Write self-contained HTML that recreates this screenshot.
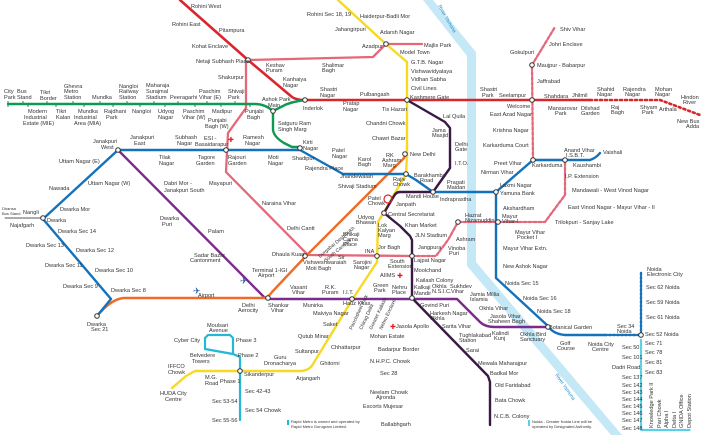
<!DOCTYPE html>
<html><head><meta charset="utf-8"><style>
html,body{margin:0;padding:0;background:#fff}
svg{display:block}
text{font-family:"Liberation Sans",sans-serif;font-size:5.6px;fill:#333}
.l{fill:none;stroke-linejoin:round;stroke-linecap:round}
</style></head><body>
<svg width="705" height="435" viewBox="0 0 705 435" xmlns="http://www.w3.org/2000/svg">
<path d="M423,0 L433,0 L476,52 L476,262 L622,435 L611,435 L467,266 L467,56 Z" fill="#c4e8f6"/>
<text transform="translate(438,6) rotate(60)" style="font-size:5px;fill:#2a8bc0">River Yamuna</text>
<text transform="translate(555,375) rotate(55)" style="font-size:5px;fill:#2a8bc0">River Yamuna</text>

<path class="l" d="M43,218 L4,218" stroke="#aaa" stroke-width="2" stroke-dasharray="1.5,1.5"/>
<path class="l" d="M422,44 L386,44 L373,57 L248,60 M246,60 L246,108 L228,133 L226,172 L308,255 L412,256" stroke="#e4687a" stroke-width="2.3"/>
<path class="l" d="M412,256 L436,256 L448,240 L458,222 L545,222 L565,195 L565,160 M533,160 L565,160 M533,160 L532,65 L555,27" stroke="#e4687a" stroke-width="2.3" stroke-dasharray="3,2"/>
<path class="l" d="M180,0 L248,60 L292,97 Q296,100 305,100 L590,100" stroke="#d9262c" stroke-width="2.6"/>
<path class="l" d="M590,100 L660,100 L700,115" stroke="#d9262c" stroke-width="2.6" stroke-dasharray="2,3"/>
<path class="l" d="M8,104 L255,104 Q265,104 273,111 L283,106 Q290,102 305,100 M273,111 L273,130 Q274,137 284,143 L292,147 L300,147" stroke="#0e9a50" stroke-width="2.4"/>
<path d="M8,101V107 M23,104V101 M28,104V107 M47,104V101 M56,104V107 M73,104V101 M84,104V107 M100,104V101 M113,104V107 M127,104V101 M140,104V107 M154,104V101 M165,104V107 M178,104V101 M195,104V107 M207,104V101 M221,104V107 M235,104V101 M250,104V107" stroke="#0e9a50" stroke-width="1"/>
<path class="l" d="M118,150 L265,298 Q267,299 275,299 L457,299 L480,322 Q485,327 495,327 L548,327" stroke="#7c2b8c" stroke-width="2.4"/>
<path class="l" d="M97,316 Q112,298 125,298 L262,298 Q268,298 272,292 L305,257 L400,162 Q405,158 405,155" stroke="#ee6c27" stroke-width="2.4"/>
<path class="l" d="M97,316 L111,299 L43,219 L118,150 L300,150 L343,174 L406,174 L416,180 L433,192 L496,192 L533,160 L590,160 Q596,158 600,153 M496,192 L496,278 L548,326 Q553,334 565,335 L605,335" stroke="#1472bb" stroke-width="2.4"/>
<path class="l" d="M605,335 L642,335 M641,335 L641,272" stroke="#1472bb" stroke-width="2.4" stroke-dasharray="2,2"/>
<path class="l" d="M338,0 L386,44 L407,62 L407,155 L406,174 L384,212 L378,222 L377,262 L352,300 L313,364 Q309,371 300,371 L195,371 L186,376 L172,388" stroke="#f7d924" stroke-width="2.4"/>
<path class="l" d="M407,100 L445,122 L450,128 L450,168 L433,192 L400,192 Q396,192 394,196 L384,213 L400,226 L410,236 L412,240 L412,298 L488,376 L490,382 L490,425" stroke="#3a1a45" stroke-width="2.4"/>
<path class="l" d="M240,371 L240,420 M240,371 L240,357 L233,354 L205,349 L205,338 L208,335 L230,335 L233,338 L233,354" stroke="#22b8d6" stroke-width="2.2"/>
<path class="l" d="M641,340 L641,430 L690,430" stroke="#5ad0e6" stroke-width="2.2" stroke-dasharray="2,1.5"/>

<g fill="#fff" stroke="#333" stroke-width="1">
<circle cx="248" cy="60" r="2.3"/><circle cx="305" cy="100" r="2.3"/><circle cx="273" cy="111" r="2.3"/>
<circle cx="300" cy="148" r="2.3"/><circle cx="118" cy="150" r="2.3"/><circle cx="226" cy="150" r="2.3"/>
<circle cx="386" cy="44" r="2.3"/><circle cx="407" cy="100" r="2.3"/><circle cx="532" cy="100" r="2.3"/>
<circle cx="532" cy="65" r="2.3"/><circle cx="533" cy="160" r="2.3"/><circle cx="565" cy="160" r="2.3"/>
<circle cx="405" cy="154" r="2.3"/><circle cx="406" cy="174" r="2.3"/><circle cx="433" cy="192" r="2.3"/>
<circle cx="496" cy="192" r="2.3"/><circle cx="384" cy="213" r="2.3"/><circle cx="377" cy="256" r="2.3"/>
<circle cx="412" cy="256" r="2.3"/><circle cx="412" cy="298" r="2.3"/><circle cx="548" cy="327" r="2.3"/>
<circle cx="641" cy="335" r="2.3"/><circle cx="43" cy="218" r="2.3"/><circle cx="97" cy="316" r="2.3"/>
<circle cx="305" cy="256" r="2.3"/><circle cx="268" cy="298" r="2.3"/><circle cx="352" cy="299" r="2.3"/>
<circle cx="240" cy="371" r="2.3"/><circle cx="458" cy="222" r="2.3"/><circle cx="498" cy="222" r="2.3"/>
</g>
<circle cx="388" cy="199" r="4" fill="none" stroke="#d9262c" stroke-width="1.2"/>
<text x="193" y="294" style="font-size:9px;fill:#2d5fb3">✈</text>
<text x="240" y="284" style="font-size:9px;fill:#2d5fb3">✈</text>

<text x="191" y="8">Rohini West</text><text x="172" y="26">Rohini East</text><text x="219" y="32">Pitampura</text>
<text x="192" y="48">Kohat Enclave</text><text x="196" y="63">Netaji Subhash Place</text>
<text x="266" y="67">Keshav</text><text x="266" y="72">Puram</text><text x="283" y="81">Kanhaiya</text><text x="283" y="87">Nagar</text>
<text x="322" y="67">Shalimar</text><text x="322" y="72">Bagh</text><text x="218" y="79">Shakurpur</text>
<text x="320" y="91">Shastri</text><text x="320" y="97">Nagar</text>
<text x="4" y="93">City</text><text x="4" y="99">Park</text><text x="17" y="93">Bus</text><text x="17" y="99">Stand</text>
<text x="40" y="94">Tikri</text><text x="40" y="100">Border</text>
<text x="64" y="88">Ghevra</text><text x="64" y="93">Metro</text><text x="64" y="99">Station</text>
<text x="92" y="99">Mundka</text>
<text x="119" y="88">Nangloi</text><text x="119" y="93">Railway</text><text x="119" y="99">Station</text>
<text x="146" y="87">Maharaja</text><text x="146" y="93">Surajmal</text><text x="146" y="99">Stadium</text>
<text x="170" y="99">Peeragarhi</text>
<text x="199" y="93">Paschim</text><text x="199" y="99">Vihar (E)</text>
<text x="228" y="93">Shivaji</text><text x="228" y="99">Park</text>
<text x="28" y="113">Modern</text><text x="24" y="119">Industrial</text><text x="23" y="125">Estate (MIE)</text>
<text x="56" y="113">Tikri</text><text x="56" y="119">Kalan</text>
<text x="78" y="113">Mundka</text><text x="74" y="119">Industrial</text><text x="74" y="125">Area (MIA)</text>
<text x="104" y="113">Rajdhani</text><text x="106" y="119">Park</text>
<text x="132" y="113">Nangloi</text><text x="158" y="113">Udyog</text><text x="158" y="119">Nagar</text>
<text x="183" y="113">Paschim</text><text x="182" y="119">Vihar (W)</text>
<text x="212" y="113">Madipur</text><text x="245" y="113">Punjabi</text><text x="247" y="119">Bagh</text>
<text x="262" y="101">Ashok Park</text><text x="268" y="107">Main</text><text x="303" y="110">Inderlok</text>
<text x="278" y="125">Satguru Ram</text><text x="278" y="131">Singh Marg</text>
<text x="208" y="122">Punjabi</text><text x="205" y="128">Bagh (W)</text>
<text x="204" y="140">ESI -</text><text x="195" y="146">Basaidarapur</text>
<text x="228" y="142" style="font-size:7px;fill:#e02020">✚</text>
<text x="243" y="139">Ramesh</text><text x="245" y="145">Nagar</text>
<text x="303" y="144">Kirti</text><text x="303" y="150">Nagar</text>
<text x="93" y="143">Janakpuri</text><text x="101" y="149">West</text>
<text x="130" y="139">Janakpuri</text><text x="134" y="145">East</text>
<text x="175" y="139">Subhash</text><text x="177" y="145">Nagar</text>
<text x="159" y="159">Tilak</text><text x="159" y="165">Nagar</text>
<text x="198" y="159">Tagore</text><text x="196" y="165">Garden</text>
<text x="228" y="159">Rajouri</text><text x="228" y="165">Garden</text>
<text x="268" y="159">Moti</text><text x="268" y="165">Nagar</text>
<text x="292" y="160">Shadipur</text><text x="332" y="152">Patel</text><text x="332" y="158">Nagar</text>
<text x="305" y="170">Rajendra Place</text>
<text x="59" y="163">Uttam Nagar (E)</text><text x="88" y="185">Uttam Nagar (W)</text><text x="49" y="190">Nawada</text>
<text x="164" y="185">Dabri Mor -</text><text x="164" y="192">Janakpuri South</text>
<text x="209" y="185">Mayapuri</text><text x="262" y="205">Naraina Vihar</text>
<text x="60" y="211">Dwarka Mor</text><text x="23" y="214">Nangli</text>
<text x="2" y="210" style="font-size:4px">Dhansa</text><text x="2" y="215" style="font-size:4px">Bus Stand</text>
<text x="160" y="220">Dwarka</text><text x="162" y="226">Puri</text>
<text x="307" y="16">Rohini Sec 18, 19</text><text x="360" y="18">Haiderpur-Badli Mor</text>
<text x="335" y="31">Jahangirpuri</text><text x="380" y="34">Adarsh Nagar</text>
<text x="362" y="48">Azadpur</text><text x="424" y="47">Majlis Park</text><text x="400" y="54">Model Town</text>
<text x="411" y="64">G.T.B. Nagar</text><text x="411" y="73">Vishwavidyalaya</text><text x="411" y="81">Vidhan Sabha</text>
<text x="411" y="90">Civil Lines</text><text x="410" y="99">Kashmere Gate</text><text x="360" y="96">Pulbangash</text>
<text x="343" y="105">Pratap</text><text x="343" y="111">Nagar</text><text x="382" y="111">Tis Hazari</text>
<text x="480" y="91">Shastri</text><text x="482" y="97">Park</text><text x="499" y="97">Seelampur</text><text x="507" y="108">Welcome</text>
<text x="544" y="98">Shahdara</text><text x="548" y="110">Mansarovar</text><text x="555" y="115">Park</text>
<text x="572" y="97">Jhilmil</text><text x="581" y="110">Dilshad</text><text x="581" y="115">Garden</text>
<text x="597" y="91">Shahid</text><text x="597" y="96">Nagar</text><text x="611" y="109">Raj</text><text x="611" y="114">Bagh</text>
<text x="623" y="91">Rajendra</text><text x="625" y="96">Nagar</text><text x="640" y="109">Shyam</text><text x="642" y="114">Park</text>
<text x="655" y="91">Mohan</text><text x="655" y="96">Nagar</text><text x="659" y="111">Arthala</text>
<text x="681" y="99">Hindon</text><text x="683" y="104">River</text><text x="677" y="123">New Bus</text><text x="686" y="128">Adda</text>
<text x="560" y="31">Shiv Vihar</text><text x="549" y="46">Johri Enclave</text><text x="510" y="54">Gokulpuri</text>
<text x="537" y="67">Maujpur - Babarpur</text><text x="537" y="83">Jaffrabad</text>
<text x="490" y="116">East Azad Nagar</text><text x="493" y="132">Krishna Nagar</text><text x="483" y="147">Karkarduma Court</text>
<text x="443" y="118">Lal Quila</text><text x="432" y="132">Jama</text><text x="432" y="137">Masjid</text>
<text x="455" y="146">Delhi</text><text x="455" y="151">Gate</text><text x="455" y="165">I.T.O.</text>
<text x="366" y="125">Chandni Chowk</text><text x="372" y="140">Chawri Bazar</text><text x="410" y="156">New Delhi</text>
<text x="564" y="152">Anand Vihar</text><text x="566" y="157">I.S.B.T.</text><text x="603" y="154">Vaishali</text>
<text x="573" y="167">Kaushambi</text><text x="494" y="165">Preet Vihar</text><text x="481" y="174">Nirman Vihar</text>
<text x="532" y="167">Karkarduma</text><text x="565" y="178">I.P. Extension</text><text x="500" y="187">Laxmi Nagar</text>
<text x="572" y="192">Mandawali - West Vinod Nagar</text><text x="500" y="195">Yamuna Bank</text>
<text x="568" y="209">East Vinod Nagar - Mayur Vihar - II</text><text x="503" y="210">Akshardham</text>
<text x="358" y="161">Karol</text><text x="358" y="166">Bagh</text>
<text x="386" y="157">RK</text><text x="382" y="162">Ashram</text><text x="383" y="167">Marg</text>
<text x="414" y="177">Barakhamba</text><text x="420" y="182">Road</text>
<text x="447" y="184">Pragati</text><text x="447" y="189">Maidan</text><text x="440" y="201">Indraprastha</text>
<text x="406" y="198">Mandi House</text><text x="396" y="206">Janpath</text>
<text x="393" y="181">Rajiv</text><text x="393" y="186">Chowk</text>
<text x="368" y="200">Patel</text><text x="368" y="205">Chowk</text>
<text x="388" y="216">Central Secretariat</text><text x="340" y="178">Jhandewalan</text><text x="338" y="188">Shivaji Stadium</text>
<text x="465" y="217">Hazrat</text><text x="465" y="222">Nizamuddin</text>
<text x="358" y="219">Udyog</text><text x="356" y="224">Bhawan</text>
<text x="343" y="236">Bhikaji</text><text x="343" y="241">Cama</text><text x="343" y="246">Place</text>
<text transform="translate(320,258) rotate(-40)" style="font-size:5px">Durgabai Deshmukh</text>
<text transform="translate(326,262) rotate(-40)" style="font-size:5px">South Campus</text>
<text x="10" y="227">Najafgarh</text><text x="47" y="222">Dwarka</text>
<text x="58" y="233">Dwarka Sec 14</text><text x="26" y="247">Dwarka Sec 13</text><text x="76" y="252">Dwarka Sec 12</text>
<text x="45" y="267">Dwarka Sec 11</text><text x="95" y="272">Dwarka Sec 10</text><text x="63" y="288">Dwarka Sec 9</text>
<text x="111" y="292">Dwarka Sec 8</text><text x="87" y="326">Dwarka</text><text x="91" y="331">Sec 21</text>
<text x="198" y="297">Airport</text><text x="242" y="307">Delhi</text><text x="238" y="312">Aerocity</text>
<text x="252" y="272">Terminal 1-IGI</text><text x="258" y="277">Airport</text>
<text x="208" y="233">Palam</text><text x="194" y="257">Sadar Bazar</text><text x="190" y="262">Cantonment</text>
<text x="287" y="230">Delhi Cantt</text><text x="272" y="256">Dhaula Kuan</text>
<text x="303" y="264">Vishweshwaraiah</text><text x="306" y="270">Moti Bagh</text><text x="338" y="259">Sir</text>
<text x="268" y="307">Shankar</text><text x="271" y="312">Vihar</text>
<text x="290" y="289">Vasant</text><text x="292" y="294">Vihar</text><text x="303" y="307">Munirka</text>
<text x="325" y="289">R.K.</text><text x="322" y="294">Puram</text><text x="343" y="294">I.I.T.</text>
<text x="343" y="305">Hauz Khas</text><text x="313" y="315">Malviya Nagar</text><text x="323" y="326">Saket</text>
<text x="298" y="338">Qutub Minar</text><text x="331" y="349">Chhattarpur</text><text x="295" y="353">Sultanpur</text>
<text x="320" y="365">Ghitorni</text><text x="274" y="359">Guru</text><text x="264" y="365">Dronacharya</text>
<text x="296" y="380">Arjangarh</text><text x="244" y="376">Sikanderpur</text>
<text x="205" y="379">M.G.</text><text x="205" y="385">Road</text><text x="220" y="383">Phase 1</text>
<text x="168" y="368">IFFCO</text><text x="168" y="374">Chowk</text>
<text x="160" y="395">HUDA City</text><text x="165" y="401">Centre</text>
<text x="245" y="393">Sec 42-43</text><text x="212" y="403">Sec 53-54</text><text x="245" y="412">Sec 54 Chowk</text><text x="212" y="422">Sec 55-56</text>
<text x="207" y="327">Moulsari</text><text x="209" y="332">Avenue</text><text x="174" y="342">Cyber City</text>
<text x="236" y="342">Phase 3</text><text x="190" y="357">Belvedere</text><text x="192" y="363">Towers</text><text x="238" y="357">Phase 2</text>
<rect x="287" y="420" width="2" height="5" fill="#22b8d6"/>
<text x="291" y="423" style="font-size:4px">Rapid Metro is owned and operated by</text>
<text x="291" y="428" style="font-size:4px">Rapid Metro Gurugram Limited.</text>
<text x="405" y="227">Khan Market</text><text x="415" y="237">JLN Stadium</text><text x="418" y="249">Jangpura</text>
<text x="414" y="262">Lajpat Nagar</text><text x="414" y="272">Moolchand</text><text x="416" y="282">Kailash Colony</text>
<text x="414" y="289">Kalkaji</text><text x="414" y="295">Mandir</text>
<text x="432" y="288">Okhla</text><text x="432" y="293">N.S.I.C.</text><text x="450" y="288">Sukhdev</text><text x="451" y="293">Vihar</text>
<text x="470" y="296">Jamia Millia</text><text x="470" y="301">Islamia</text><text x="479" y="310">Okhla Vihar</text>
<text x="490" y="318">Jasola Vihar</text><text x="488" y="323">Shaheen Bagh</text>
<text x="492" y="335">Kalindi</text><text x="494" y="340">Kunj</text><text x="520" y="336">Okhla Bird</text><text x="520" y="341">Sanctuary</text>
<text x="549" y="329">Botanical Garden</text><text x="560" y="345">Golf</text><text x="557" y="350">Course</text>
<text x="588" y="346">Noida City</text><text x="592" y="351">Centre</text><text x="617" y="328">Sec 34</text><text x="617" y="333">Noida</text>
<text x="645" y="336">Sec 52 Noida</text><text x="647" y="271">Noida</text><text x="647" y="276">Electronic City</text>
<text x="646" y="289">Sec 62 Noida</text><text x="646" y="304">Sec 59 Noida</text><text x="646" y="319">Sec 61 Noida</text>
<text x="645" y="345">Sec 71</text><text x="645" y="354">Sec 78</text><text x="645" y="364">Sec 81</text><text x="645" y="374">Sec 83</text>
<text x="622" y="349">Sec 50</text><text x="622" y="359">Sec 101</text><text x="612" y="369">Dadri Road</text>
<text x="622" y="379">Sec 137</text><text x="622" y="387">Sec 142</text><text x="622" y="394">Sec 143</text><text x="622" y="401">Sec 144</text>
<text x="622" y="408">Sec 145</text><text x="622" y="415">Sec 146</text><text x="622" y="422">Sec 147</text><text x="622" y="430">Sec 148</text>
<text transform="translate(653,428) rotate(-90)">Knowledge Park II</text><text transform="translate(661,428) rotate(-90)">Pari Chowk</text>
<text transform="translate(668,428) rotate(-90)">Alpha I</text><text transform="translate(676,428) rotate(-90)">Delta I</text>
<text transform="translate(683,428) rotate(-90)">GNIDA Office</text><text transform="translate(691,428) rotate(-90)">Depot Station</text>
<text x="502" y="218">Mayur</text><text x="502" y="223">Vihar-I</text>
<text x="515" y="234">Mayur Vihar</text><text x="517" y="239">Pocket I</text><text x="503" y="250">Mayur Vihar Extn.</text>
<text x="503" y="268">New Ashok Nagar</text><text x="505" y="285">Noida Sec 15</text><text x="523" y="300">Noida Sec 16</text>
<text x="537" y="313">Noida Sec 18</text><text x="555" y="224">Trilokpuri - Sanjay Lake</text>
<text x="456" y="241">Ashram</text><text x="448" y="250">Vinoba</text><text x="449" y="255">Puri</text>
<text x="420" y="307">Govind Puri</text><text x="430" y="315">Harkesh Nagar</text><text x="430" y="320">Okhla</text>
<text x="442" y="328">Sarita Vihar</text><text x="396" y="328">Jasola Apollo</text><text x="390" y="329" style="font-size:7px;fill:#e02020">✚</text>
<text x="370" y="338">Mohan Estate</text><text x="459" y="337">Tughlakabad</text><text x="459" y="342">Station</text>
<text x="378" y="351">Badarpur Border</text><text x="466" y="352">Sarai</text><text x="370" y="363">N.H.P.C. Chowk</text>
<text x="478" y="365">Mewala Maharajpur</text><text x="380" y="375">Sec 28</text><text x="490" y="375">Badkal Mor</text>
<text x="495" y="387">Old Faridabad</text><text x="370" y="394">Neelam Chowk</text><text x="376" y="399">Ajronda</text>
<text x="495" y="402">Bata Chowk</text><text x="363" y="408">Escorts Mujesar</text><text x="494" y="418">N.C.B. Colony</text>
<text x="381" y="426">Ballabhgarh</text>
<rect x="528" y="420" width="2" height="6" fill="#5ad0e6"/>
<text x="532" y="423" style="font-size:4px">Noida - Greater Noida Line will be</text>
<text x="532" y="428" style="font-size:4px">operated by Designated Authority.</text>
<text x="378" y="227">Lok</text><text x="378" y="232">Kalyan</text><text x="378" y="237">Marg</text>
<text x="378" y="249">Jor Bagh</text><text x="365" y="253">INA</text><text x="390" y="263">South</text><text x="388" y="268">Extension</text>
<text x="353" y="264">Sarojini</text><text x="354" y="269">Nagar</text><text x="380" y="277">AIIMS</text><text x="397" y="278" style="font-size:7px;fill:#e02020">✚</text>
<text x="373" y="287">Green</text><text x="374" y="292">Park</text><text x="392" y="289">Nehru</text><text x="392" y="294">Place</text>
<text transform="translate(352,330) rotate(-65)" style="font-size:5px">Panchsheel Park</text>
<text transform="translate(362,330) rotate(-65)" style="font-size:5px">Chirag Delhi</text>
<text transform="translate(372,330) rotate(-65)" style="font-size:5px">Greater Kailash</text>
<text transform="translate(382,330) rotate(-65)" style="font-size:5px">Nehru Enclave</text>
</svg>
</body></html>
